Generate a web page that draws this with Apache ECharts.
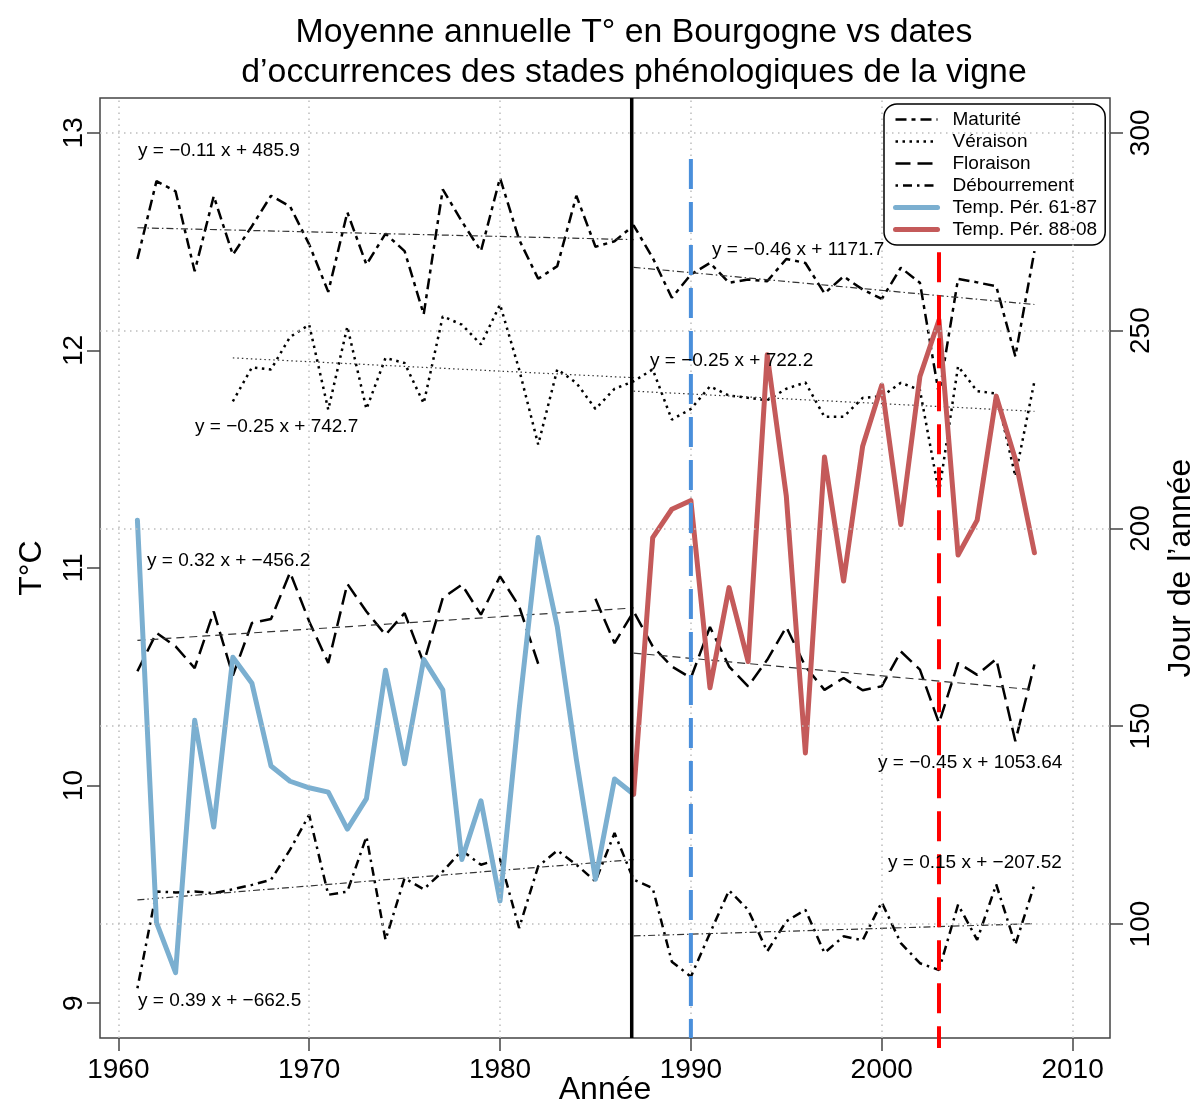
<!DOCTYPE html>
<html><head><meta charset="utf-8">
<script src="https://cdn.jsdelivr.net/npm/echarts@6/dist/echarts.min.js"></script>
<style>html,body{margin:0;padding:0;background:#fff}#chart{width:1190px;height:1104px}</style>
</head><body><div id="chart"></div>
<script>
// ---------- data ----------
const years = [1961,1962,1963,1964,1965,1966,1967,1968,1969,1970,1971,1972,1973,1974,1975,1976,1977,1978,1979,1980,
  1981,1982,1983,1984,1985,1986,1987,1988,1989,1990,1991,1992,1993,1994,1995,1996,1997,1998,1999,2000,
  2001,2002,2003,2004,2005,2006,2007,2008];
const maturite = [268.1,287.8,285.2,265.0,284.0,269.2,276.4,284.1,281.4,271.8,259.8,279.9,266.7,274.5,270.1,254.1,285.7,277.6,270.1,288.6,
  273.0,263.1,266.3,284.1,271.2,272.6,276.6,268.4,258.3,264.2,267.1,262.1,262.9,262.5,268.1,267.1,259.4,263.7,260.4,258.0,
  265.9,262.1,233.8,263.1,262.2,261.2,243.5,270.1];
const veraison = [null,null,null,null,null,232.1,240.7,240.2,248.4,251.5,230.0,251.0,230.2,243.1,241.8,231.6,253.6,251.5,246.5,256.6,
  240.2,221.2,240.2,236.8,230.2,235.3,237.2,240.2,227.5,230.2,235.9,233.6,233.0,232.4,235.3,236.9,228.2,228.2,233.0,233.4,
  236.8,235.0,209.0,241.0,234.7,234.1,213.2,237.2];
const floraison = [163.9,173.6,170.2,164.7,179.0,162.8,176.1,177.1,188.9,176.5,166.0,186.0,179.0,173.1,178.6,166.0,182.4,185.8,178.2,187.9,
  180.3,165.8,null,null,182.2,171.0,179.0,170.2,165.1,162.2,175.1,165.1,160.1,166.8,175.1,165.1,159.2,162.2,159.1,160.1,
  168.9,164.3,150.8,166.0,163.0,167.0,146.2,165.6];
const debourrement = [83.8,108.2,108.0,108.2,107.8,108.8,109.9,111.2,118.8,127.6,107.4,108.2,122.1,96.0,111.6,108.8,113.3,118.6,115.0,116.4,
  99.0,114.6,118.6,115.0,110.8,123.0,111.2,109.1,90.5,86.7,97.7,108.5,103.6,93.1,100.7,103.6,92.7,96.9,95.9,105.5,
  95.2,90.1,88.4,104.9,96.0,110.0,94.8,110.0];

const tempYears1 = [1961,1962,1963,1964,1965,1966,1967,1968,1969,1970,1971,1972,1973,1974,1975,1976,1977,1978,1979,1980,1981,1982,1983,1984,1985,1986,1987];
const tempP1 = [11.22,9.37,9.14,10.30,9.81,10.59,10.47,10.09,10.02,9.99,9.97,9.80,9.94,10.53,10.10,10.58,10.44,9.66,9.93,9.47,10.35,11.14,10.73,10.12,9.57,10.03,9.96];
const tempYears2 = [1987,1988,1989,1990,1991,1992,1993,1994,1995,1996,1997,1998,1999,2000,2001,2002,2003,2004,2005,2006,2007,2008];
const tempP2 = [9.96,11.14,11.27,11.31,10.45,10.91,10.57,11.98,11.33,10.15,11.51,10.94,11.56,11.84,11.20,11.88,12.14,11.06,11.22,11.79,11.50,11.07];

// trend line end points [year, day]
const trendMatP1 = [[1961, 276.0], [1987, 273.0]];
const trendMatP2 = [[1987, 266.0], [2008, 256.6]];
const trendVerP1 = [[1966, 243.1], [1987, 238.1]];
const trendVerP2 = [[1987, 234.7], [2008, 229.6]];
const trendFloP1 = [[1961, 171.7], [1987, 179.9]];
const trendFloP2 = [[1987, 168.5], [2008, 159.2]];
const trendDebP1 = [[1961, 106.1], [1987, 116.3]];
const trendDebP2 = [[1987, 97.0], [2008, 100.1]];

// reference vertical lines
const breakYear = 1986.9;
const blueLine = [[1990, 293.4], [1990, 71.2]];
const redLine = [[2003, 269.8], [2003, 68.7]];

const xTicks = [1960, 1970, 1980, 1990, 2000, 2010];
const leftTicks = [9, 10, 11, 12, 13];
const rightTicks = [100, 150, 200, 250, 300];

const equations = [
  {text: 'y = \u22120.11 x + 485.9', x: 138, y: 151},
  {text: 'y = \u22120.46 x + 1171.7', x: 712, y: 250},
  {text: 'y = \u22120.25 x + 722.2', x: 650, y: 361},
  {text: 'y = \u22120.25 x + 742.7', x: 195, y: 427},
  {text: 'y = 0.32 x + \u2212456.2', x: 147, y: 561},
  {text: 'y = \u22120.45 x + 1053.64', x: 878, y: 763},
  {text: 'y = 0.15 x + \u2212207.52', x: 888, y: 863},
  {text: 'y = 0.39 x + \u2212662.5', x: 138, y: 1001}
];

// ---------- chart ----------
const FONT = '"Liberation Sans", Arial, Helvetica, sans-serif';
const pairs = (xs, ys) => xs.map((x, i) => [x, ys[i]]);
const chart = echarts.init(document.getElementById('chart'), null, {renderer: 'canvas'});

function pheno(name, data, dash) {
  return {name, type: 'line', yAxisIndex: 1, data: pairs(years, data), symbol: 'none', z: 3,
    lineStyle: {color: '#000', width: 2.5, type: dash}, itemStyle: {color: '#000'}, silent: true};
}
function trend(name, data, dash) {
  return {name, type: 'line', yAxisIndex: 1, data, symbol: 'none', z: 3, silent: true,
    lineStyle: {color: '#333', width: 1.2, type: dash}};
}

const option = {
  animation: false,
  backgroundColor: '#fff',
  title: {
    text: 'Moyenne annuelle T\u00b0 en Bourgogne vs dates\nd\u2019occurrences des stades ph\u00e9nologiques de la vigne',
    left: 634, top: 13, textAlign: 'center', padding: 0,
    textStyle: {fontFamily: FONT, fontSize: 33.8, fontWeight: 'normal', color: '#000', lineHeight: 40}
  },
  grid: {left: 100, right: 80, top: 98, bottom: 66, show: true, borderColor: '#444', borderWidth: 1.5,
    backgroundColor: 'transparent', outerBoundsMode: 'none', containLabel: false},
  legend: {
    orient: 'vertical', left: 884, top: 104,
    padding: [6, 8, 6, 9], itemWidth: 42, itemHeight: 14, itemGap: 3,
    borderColor: '#000', borderWidth: 1.5, borderRadius: 13, backgroundColor: '#fff',
    itemStyle: {opacity: 0},
    lineStyle: {width: 'inherit'},
    textStyle: {fontFamily: FONT, fontSize: 19, color: '#000', padding: [0, 0, 0, 10]},
    data: ['Maturit\u00e9', 'V\u00e9raison', 'Floraison', 'D\u00e9bourrement', 'Temp. P\u00e9r. 61-87', 'Temp. P\u00e9r. 88-08']
  },
  xAxis: {
    type: 'value', min: 1959.04, max: 2011.96,
    axisLine: {show: false}, splitLine: {show: false},
    axisTick: {show: true, customValues: xTicks, length: 13, lineStyle: {color: '#444', width: 1.5}},
    axisLabel: {customValues: xTicks, formatter: v => String(v), fontFamily: FONT, fontSize: 28, color: '#000', margin: 18},
    name: 'Ann\u00e9e', nameLocation: 'middle', nameGap: 36, nameMoveOverlap: false,
    nameTextStyle: {fontFamily: FONT, fontSize: 32, color: '#000'}
  },
  yAxis: [
    {
      type: 'value', min: 8.84, max: 13.16, position: 'left',
      axisLine: {show: false}, splitLine: {show: false},
      axisTick: {show: true, customValues: leftTicks, length: 13, lineStyle: {color: '#444', width: 1.5}},
      axisLabel: {customValues: leftTicks, formatter: v => String(v), rotate: 90, fontFamily: FONT, fontSize: 28, color: '#000', margin: 12},
      name: 'T\u00b0C', nameLocation: 'middle', nameGap: 52, nameMoveOverlap: false,
      nameTextStyle: {fontFamily: FONT, fontSize: 32, color: '#000'}
    },
    {
      type: 'value', min: 71.2, max: 308.8, position: 'right',
      axisLine: {show: false}, splitLine: {show: false},
      axisTick: {show: true, customValues: rightTicks, length: 13, lineStyle: {color: '#444', width: 1.5}},
      axisLabel: {customValues: rightTicks, formatter: v => String(v), rotate: 90, fontFamily: FONT, fontSize: 28, color: '#000', margin: 17},
      name: 'Jour de l\u2019ann\u00e9e', nameLocation: 'middle', nameGap: 55, nameMoveOverlap: false,
      nameTextStyle: {fontFamily: FONT, fontSize: 32, color: '#000'}
    }
  ],
  graphic: equations.map(e => ({
    type: 'text', x: e.x, y: e.y, z: 10, silent: true,
    style: {text: e.text, fill: '#000', font: '19px ' + FONT, textVerticalAlign: 'middle', verticalAlign: 'middle', align: 'left'}
  })),
  series: [
    {name: 'grille', type: 'line', yAxisIndex: 1, data: [], z: 1, silent: true,
      markLine: {silent: true, symbol: ['none', 'none'], label: {show: false}, animation: false,
        lineStyle: {color: '#bdbdbd', width: 1.5, type: [1.5, 4.5]},
        data: xTicks.map(v => ({xAxis: v})).concat(rightTicks.map(v => ({yAxis: v})))}},
    pheno('Maturit\u00e9', maturite, [11, 5, 4, 5]),
    pheno('V\u00e9raison', veraison, [2.5, 4.5]),
    pheno('Floraison', floraison, [15, 7]),
    pheno('D\u00e9bourrement', debourrement, [2.5, 5, 9, 5]),
    trend('tendance maturit\u00e9 61-87', trendMatP1, [7, 3, 1.5, 3]),
    trend('tendance maturit\u00e9 88-08', trendMatP2, [7, 3, 1.5, 3]),
    trend('tendance v\u00e9raison 61-87', trendVerP1, [1.5, 3]),
    trend('tendance v\u00e9raison 88-08', trendVerP2, [1.5, 3]),
    trend('tendance floraison 61-87', trendFloP1, [8, 5]),
    trend('tendance floraison 88-08', trendFloP2, [8, 5]),
    trend('tendance d\u00e9bourrement 61-87', trendDebP1, [7, 3, 1.5, 3]),
    trend('tendance d\u00e9bourrement 88-08', trendDebP2, [7, 3, 1.5, 3]),
    {name: 'Temp. P\u00e9r. 61-87', type: 'line', yAxisIndex: 0, data: pairs(tempYears1, tempP1), symbol: 'none', z: 4, silent: true,
      lineStyle: {color: '#7BAFD0', width: 5, join: 'round', cap: 'round'}, itemStyle: {color: '#7BAFD0'}},
    {name: 'Temp. P\u00e9r. 88-08', type: 'line', yAxisIndex: 0, data: pairs(tempYears2, tempP2), symbol: 'none', z: 4, silent: true,
      lineStyle: {color: '#C45A5A', width: 5, join: 'round', cap: 'round'}, itemStyle: {color: '#C45A5A'}},
    {name: 'rupture 1987', type: 'line', yAxisIndex: 1, data: [[breakYear, 71.2], [breakYear, 308.8]], symbol: 'none', z: 6, silent: true,
      lineStyle: {color: '#000', width: 3.5}},
    {name: 'ligne 1990', type: 'line', yAxisIndex: 1, data: blueLine, symbol: 'none', z: 6, silent: true,
      lineStyle: {color: '#4A8FDB', width: 4, type: [30, 13]}},
    {name: 'ligne 2003', type: 'line', yAxisIndex: 1, data: redLine, symbol: 'none', z: 6, silent: true, clip: false,
      lineStyle: {color: '#FF0000', width: 4, type: [30, 13]}}
  ]
};
chart.setOption(option);
</script>
</body></html>
